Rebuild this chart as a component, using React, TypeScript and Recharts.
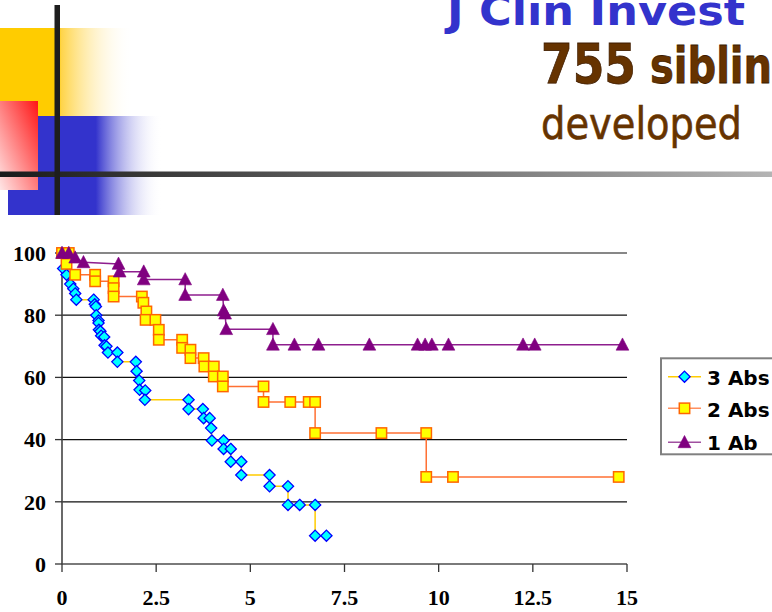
import React from 'react';
import { ScatterChart, Scatter, XAxis, YAxis, CartesianGrid, Legend } from 'recharts';

// Axis ticks
const xTicks = [0, 2.5, 5, 7.5, 10, 12.5, 15];
const yTicks = [0, 20, 40, 60, 80, 100];

// Survival steps: years vs percent free of diabetes
const threeAbsYears = [0, 0.03, 0.12, 0.22, 0.3, 0.35, 0.38, 0.84, 0.87, 0.9, 0.91, 0.97, 0.97, 0.98, 1.02, 1.04, 1.12, 1.13, 1.18, 1.22, 1.47, 1.47, 1.96, 1.98, 2.05, 2.06, 2.21, 2.2, 3.36, 3.36, 3.74, 3.76, 3.92, 3.96, 3.98, 4.29, 4.29, 4.48, 4.48, 4.76, 4.76, 5.51, 5.51, 6.0, 6.0, 6.31, 6.72, 6.72, 7.02];
const threeAbsPct = [100, 95, 93, 90, 88.5, 87, 85, 85, 83.5, 82.8, 80, 78.3, 77.5, 75.3, 74.8, 73.4, 73, 70.3, 70, 68, 68, 65, 65, 62, 59, 56, 55.8, 52.8, 52.8, 49.8, 49.8, 46.9, 46.9, 43.7, 39.7, 39.7, 37, 37, 32.9, 32.9, 28.6, 28.6, 25, 25, 19, 19, 19, 9.1, 9.1];

const twoAbsYears = [0, 0.18, 0.12, 0.35, 0.88, 0.88, 1.37, 1.37, 1.37, 2.12, 2.16, 2.24, 2.22, 2.48, 2.57, 2.57, 3.19, 3.19, 3.41, 3.41, 3.76, 3.78, 4.03, 4.03, 4.27, 4.27, 5.35, 5.35, 6.06, 6.55, 6.72, 6.72, 8.48, 9.67, 9.67, 10.38, 14.78];
const twoAbsPct = [100, 100, 96.5, 93, 93, 90.9, 90.9, 88.7, 86, 86, 84, 81.2, 78.5, 78.5, 75.3, 72.1, 72.1, 69.5, 68.9, 66.2, 66.2, 63.5, 63.5, 60.3, 60.3, 57.1, 57.1, 52.1, 52.1, 52.1, 52.1, 42.1, 42.1, 42.1, 28, 28, 28];

const oneAbYears = [0, 0.18, 0.35, 0.57, 1.5, 1.53, 2.17, 2.17, 3.27, 3.27, 4.27, 4.29, 4.33, 4.36, 5.6, 5.6, 6.17, 6.81, 8.16, 9.44, 9.64, 9.82, 10.26, 12.24, 12.55, 14.88];
const oneAbPct = [100, 100, 98.5, 97, 96.5, 94, 94, 91.5, 91.5, 86.5, 86.5, 81.5, 80.5, 75.5, 75.5, 70.5, 70.5, 70.5, 70.5, 70.5, 70.5, 70.5, 70.5, 70.5, 70.5, 70.5];

const seriesNames = ['3 Abs', '2 Abs', '1 Ab'];

const toPoints = (xs: number[], ys: number[]) => xs.map((x, i) => ({ x, y: ys[i] }));

const threeAbs = toPoints(threeAbsYears, threeAbsPct);
const twoAbs = toPoints(twoAbsYears, twoAbsPct);
const oneAb = toPoints(oneAbYears, oneAbPct);

const DIAMOND_LINE = '#FFCC00';
const SQUARE_LINE = '#FF7033';
const TRIANGLE_LINE = '#8E1E8E';

const diamondMark = (cx: number, cy: number) => {
  const r = 5.6;
  return (
    <polygon
      points={`${cx},${cy - r} ${cx + r},${cy} ${cx},${cy + r} ${cx - r},${cy}`}
      fill="#00FFFF"
      stroke="#0000FF"
      strokeWidth={1.3}
    />
  );
};

const squareMark = (cx: number, cy: number) => (
  <rect x={cx - 5.2} y={cy - 5.2} width={10.4} height={10.4} fill="#FFFF00" stroke="#FF6600" strokeWidth={1.5} />
);

const triangleMark = (cx: number, cy: number) => (
  <polygon
    points={`${cx},${cy - 6.8} ${cx + 6.4},${cy + 5.4} ${cx - 6.4},${cy + 5.4}`}
    fill="#800080"
    stroke="#800080"
    strokeWidth={0.6}
  />
);

const DiamondShape = (p: any) => <g>{diamondMark(p.cx, p.cy)}</g>;
const SquareShape = (p: any) => <g>{squareMark(p.cx, p.cy)}</g>;
const TriangleShape = (p: any) => <g>{triangleMark(p.cx, p.cy)}</g>;

const legendItems = [
  { name: seriesNames[0], line: DIAMOND_LINE, mark: diamondMark, y: 19.7, base: 28 },
  { name: seriesNames[1], line: '#FF9060', mark: squareMark, y: 51.3, base: 59.7 },
  { name: seriesNames[2], line: '#A050A0', mark: triangleMark, y: 85.3, base: 93 },
];

const LegendBox = () => (
  <svg width={130} height={100} style={{ display: 'block' }}>
    <rect x={1} y={1.3} width={200} height={96} fill="#fff" stroke="#808080" strokeWidth={2} />
    {legendItems.map((it) => (
      <g key={it.name}>
        <line x1={8} x2={41} y1={it.y} y2={it.y} stroke={it.line} strokeWidth={1.5} />
        {it.mark(24.5, it.y)}
        <text
          x={47}
          y={it.base}
          fontFamily="'DejaVu Sans', Verdana, sans-serif"
          fontWeight="bold"
          fontSize={20}
          fill="#000"
        >
          {it.name}
        </text>
      </g>
    ))}
  </svg>
);

const tickFont = {
  fontFamily: "'Liberation Serif', 'Times New Roman', serif",
  fontWeight: 'bold' as const,
  fontSize: 22,
  fill: '#000',
};

const Header = () => (
  <svg width={772} height={240} style={{ position: 'absolute', left: 0, top: 0 }}>
    <defs>
      <linearGradient id="yel" x1="0" y1="0" x2="1" y2="0">
        <stop offset="0" stopColor="#FFCC00" />
        <stop offset="0.44" stopColor="#FFCC00" />
        <stop offset="0.46" stopColor="#FFD448" />
        <stop offset="1" stopColor="#FFFFFF" stopOpacity="0" />
      </linearGradient>
      <linearGradient id="blu" x1="0" y1="0" x2="1" y2="0">
        <stop offset="0" stopColor="#3333CC" />
        <stop offset="0.57" stopColor="#3333CC" />
        <stop offset="1" stopColor="#FFFFFF" stopOpacity="0" />
      </linearGradient>
      <linearGradient id="red" x1="1" y1="0" x2="0" y2="1">
        <stop offset="0" stopColor="#FF1515" />
        <stop offset="1" stopColor="#FFE6E6" />
      </linearGradient>
      <linearGradient id="rule" x1="0" y1="0" x2="1" y2="0">
        <stop offset="0" stopColor="#1A1A1A" />
        <stop offset="1" stopColor="#B4B4B4" />
      </linearGradient>
    </defs>
    <rect x={0} y={28} width={133} height={88} fill="url(#yel)" />
    <rect x={8} y={116} width={154} height={99} fill="url(#blu)" />
    <rect x={0} y={101} width={38} height={89} fill="url(#red)" />
    <rect x={0} y={171.5} width={772} height={5.5} fill="url(#rule)" />
    <rect x={54.5} y={5} width={5.5} height={210} fill="#1E1E1E" />
    <text
      x={447}
      y={25}
      fontFamily="'DejaVu Sans', sans-serif"
      fontWeight="bold"
      fontSize={40}
      fill="#3333CC"
      textLength={298}
      lengthAdjust="spacingAndGlyphs"
    >
      J Clin Invest
    </text>
    <text
      x={541}
      y={83}
      fontFamily="'DejaVu Sans', sans-serif"
      fontWeight="bold"
      fontSize={55}
      fill="#663300"
      stroke="#3D1C00"
      strokeWidth={0.8}
      textLength={95}
      lengthAdjust="spacingAndGlyphs"
    >
      755
    </text>
    <text
      transform="translate(650,83) scale(0.8,1)"
      fontFamily="'DejaVu Sans', sans-serif"
      fontWeight="bold"
      fontSize={50}
      fill="#663300"
      stroke="#3D1C00"
      strokeWidth={0.8}
    >
      siblings
    </text>
    <text
      x={541}
      y={139}
      fontFamily="'DejaVu Sans', sans-serif"
      fontSize={45}
      fill="#663300"
      stroke="#663300"
      strokeWidth={0.6}
      textLength={201}
      lengthAdjust="spacingAndGlyphs"
    >
      developed
    </text>
  </svg>
);

export default function App() {
  return (
    <div style={{ position: 'relative', width: 772, height: 612, overflow: 'hidden', background: '#fff' }}>
      <style>{`body{margin:0}`}</style>
      <Header />
      <div style={{ position: 'absolute', left: 0, top: 0 }}>
        <ScatterChart width={772} height={612} margin={{ top: 253, right: 145, bottom: 0, left: 10 }}>
          <CartesianGrid horizontal vertical={false} stroke="#111" strokeWidth={1.2} />
          <XAxis
            type="number"
            dataKey="x"
            domain={[0, 15]}
            ticks={xTicks}
            interval={0}
            height={48}
            tickSize={8}
            tickMargin={17}
            tick={tickFont}
            axisLine={{ stroke: '#7A7A7A', strokeWidth: 2.2 }}
            tickLine={{ stroke: '#333', strokeWidth: 1.3 }}
          />
          <YAxis
            type="number"
            dataKey="y"
            domain={[0, 100]}
            ticks={yTicks}
            interval={0}
            width={52}
            tickSize={7}
            tickMargin={9}
            tick={tickFont}
            axisLine={{ stroke: '#444', strokeWidth: 1.6 }}
            tickLine={{ stroke: '#333', strokeWidth: 1.3 }}
          />
          <Legend
            layout="vertical"
            align="center"
            verticalAlign="middle"
            content={() => <LegendBox />}
            wrapperStyle={{ left: 660, top: 357, width: 130, height: 100 }}
          />
          <Scatter
            name={seriesNames[0]}
            data={threeAbs}
            line={{ stroke: DIAMOND_LINE, strokeWidth: 1.5 }}
            shape={DiamondShape}
            isAnimationActive={false}
          />
          <Scatter
            name={seriesNames[1]}
            data={twoAbs}
            line={{ stroke: SQUARE_LINE, strokeWidth: 1.5 }}
            shape={SquareShape}
            isAnimationActive={false}
          />
          <Scatter
            name={seriesNames[2]}
            data={oneAb}
            line={{ stroke: TRIANGLE_LINE, strokeWidth: 1.5 }}
            shape={TriangleShape}
            isAnimationActive={false}
          />
        </ScatterChart>
      </div>
    </div>
  );
}
